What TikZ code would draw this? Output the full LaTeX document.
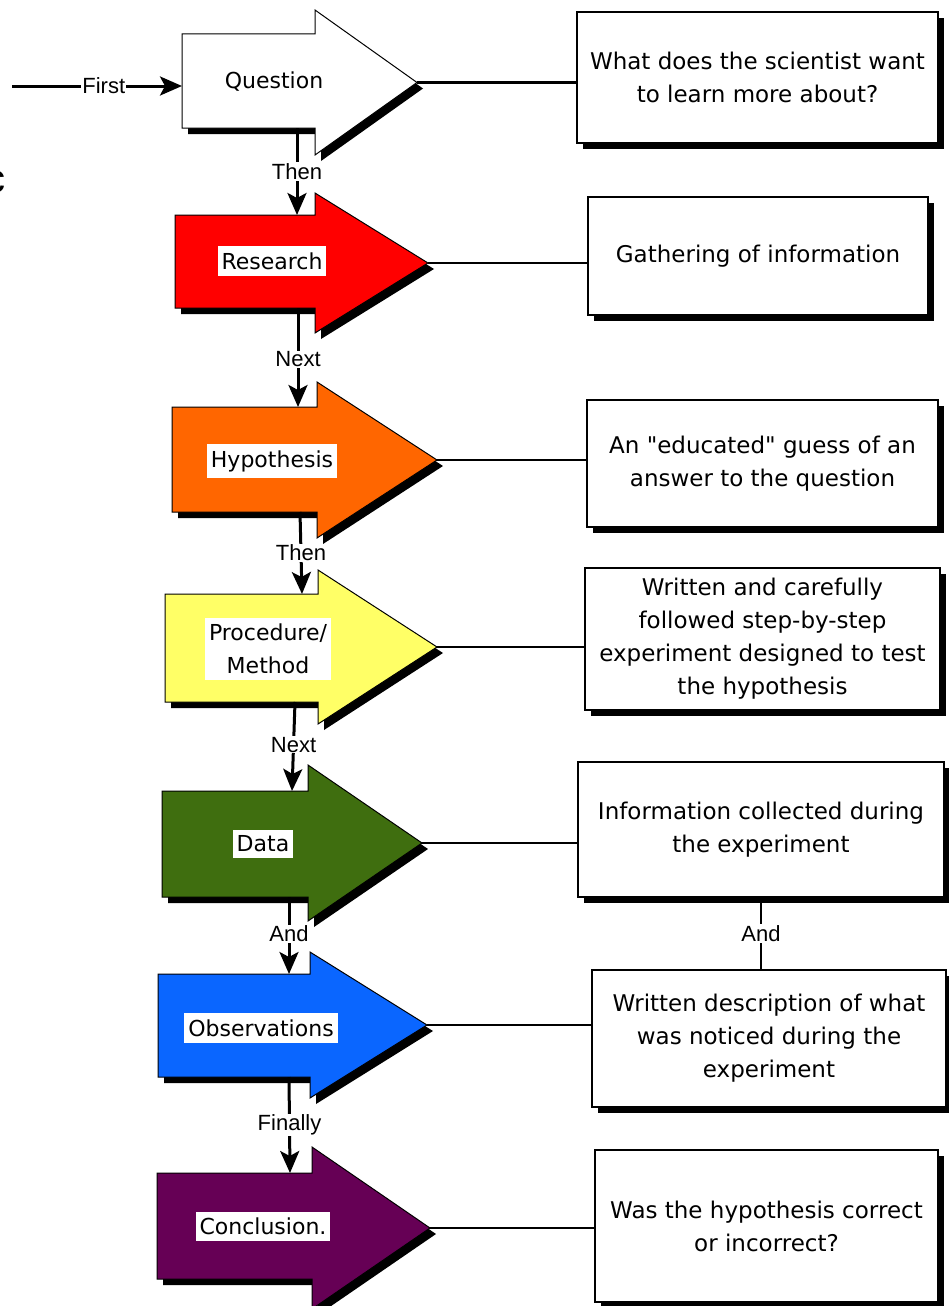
\documentclass[tikz,border=0pt]{standalone}
\usepackage{fontspec}
\setmainfont{DejaVu Sans}[Ligatures=TeXOff]
\newfontfamily\wordfont{Liberation Sans}
\usetikzlibrary{arrows.meta,shadows}

\definecolor{stepred}{HTML}{FF0000}
\definecolor{steporange}{HTML}{FF6600}
\definecolor{stepyellow}{HTML}{FFFF66}
\definecolor{stepgreen}{HTML}{3F6E0F}
\definecolor{stepblue}{HTML}{0A66FF}
\definecolor{steppurple}{HTML}{660055}

\tikzset{
  hard shadow/.style={general shadow={shadow xshift=6pt,shadow yshift=-6pt,fill=black}},
  stepshape/.style={draw=black,line width=1pt,hard shadow},
  steplabel/.style={fill=white,inner xsep=4pt,inner ysep=6pt,align=center,font=\fontsize{22}{33}\selectfont},
  infobox/.style={draw=black,line width=1.5pt,fill=white,hard shadow,align=center,inner sep=0pt,font=\fontsize{23}{33}\selectfont},
  joinword/.style={fill=white,inner sep=1pt,font=\wordfont\fontsize{22}{24}\selectfont},
  flow/.style={line width=3pt,-{Stealth[length=22pt,width=19pt,inset=5pt]}},
  link/.style={line width=2.8pt},
}

% #1 name, #2 fill, #3 left, #4 body top, #5 body bottom,
% #6 head base, #7 head top, #8 head bottom, #9 tip
\newcommand{\steparrow}[9]{%
  \filldraw[stepshape,fill=#2] (#3,#4) -- (#6,#4) -- (#6,#7) -- (#9,{(#7+#8)/2})
    -- (#6,#8) -- (#6,#5) -- (#3,#5) -- cycle;
  \coordinate (#1-tip) at (#9,{(#7+#8)/2});
}

\begin{document}
\begin{tikzpicture}[x=1pt,y=-1pt]
  \useasboundingbox (0,0) rectangle (949,1306);

  % the steps
  \steparrow{question}{white}{182}{34}{128}{315}{10}{155}{417}
  \steparrow{research}{stepred}{175}{215}{308}{315}{193}{333}{428}
  \steparrow{hypothesis}{steporange}{172}{407}{512}{317}{382}{538}{437}
  \steparrow{procedure}{stepyellow}{165}{594}{702}{318}{570}{724}{437}
  \steparrow{data}{stepgreen}{162}{791}{897}{308}{765}{921}{422}
  \steparrow{observations}{stepblue}{158}{974}{1077}{310}{952}{1098}{427}
  \steparrow{conclusion}{steppurple}{157}{1173}{1279}{312}{1147}{1309}{430}

  \node[steplabel] (question) at (274,82) {Question};
  \node[steplabel] (research) at (272,261) {Research};
  \node[steplabel] (hypothesis) at (272,461) {Hypothesis};
  \node[steplabel] (procedure) at (268,649) {Procedure/\\Method};
  \node[steplabel] (data) at (263,844) {Data};
  \node[steplabel] (observations) at (261,1028) {Observations};
  \node[steplabel] (conclusion) at (263,1226) {Conclusion.};

  % where the flow enters and leaves
  \coordinate (start) at (12,86);
  \coordinate (question-in) at (182,86);
  \coordinate (question-out) at (297,128);
  \coordinate (research-in) at (297,215);
  \coordinate (research-out) at (298,308);
  \coordinate (hypothesis-in) at (298,407);
  \coordinate (hypothesis-out) at (300,512);
  \coordinate (procedure-in) at (302,594);
  \coordinate (procedure-out) at (295,702);
  \coordinate (data-in) at (292,791);
  \coordinate (data-out) at (289,897);
  \coordinate (observations-in) at (289,974);
  \coordinate (observations-out) at (289,1077);
  \coordinate (conclusion-in) at (290,1173);

  \draw[flow] (start) -- node[joinword,pos=.54] {First} (question-in);
  \draw[flow] (question-out) -- node[joinword,pos=.5] {Then} (research-in);
  \draw[flow] (research-out) -- node[joinword,pos=.52] {Next} (hypothesis-in);
  \draw[flow] (hypothesis-out) -- node[joinword,pos=.5] {Then} (procedure-in);
  \draw[flow] (procedure-out) -- node[joinword,pos=.48] {Next} (data-in);
  \draw[flow] (data-out) -- node[joinword,pos=.48] {And} (observations-in);
  \draw[flow] (observations-out) -- node[joinword,pos=.5] {Finally} (conclusion-in);

  % what each step means
  \node[infobox,minimum width=361pt,minimum height=131pt] (b1) at (757.5,77.5)
    {What does the scientist want\\to learn more about?};
  \node[infobox,minimum width=340pt,minimum height=118pt] (b2) at (758,256)
    {Gathering of information};
  \node[infobox,minimum width=351pt,minimum height=127pt] (b3) at (762.5,463.5)
    {An "educated" guess of an\\answer to the question};
  \node[infobox,minimum width=355pt,minimum height=142pt] (b4) at (762.5,639)
    {Written and carefully\\followed step-by-step\\experiment designed to test\\the hypothesis};
  \node[infobox,minimum width=366pt,minimum height=135pt] (b5) at (761,829.5)
    {Information collected during\\the experiment};
  \node[infobox,minimum width=354pt,minimum height=137pt] (b6) at (769,1038.5)
    {Written description of what\\was noticed during the\\experiment};
  \node[infobox,minimum width=343pt,minimum height=152pt] (b7) at (766.5,1226)
    {Was the hypothesis correct\\or incorrect?};

  \draw[link] (question-tip) -- (question-tip -| b1.west);
  \draw[link] (research-tip) -- (research-tip -| b2.west);
  \draw[link] (hypothesis-tip) -- (hypothesis-tip -| b3.west);
  \draw[link] (procedure-tip) -- (procedure-tip -| b4.west);
  \draw[link] (data-tip) -- (data-tip -| b5.west);
  \draw[link] (observations-tip) -- (observations-tip -| b6.west);
  \draw[link] (conclusion-tip) -- (conclusion-tip -| b7.west);

  \draw[line width=1.5pt] (b5.south) -- node[joinword] {And} (b5.south |- b6.north);

  % cut-off letter at the left edge
  \node[font=\wordfont\fontsize{40}{40}\selectfont,inner sep=0pt] (cut) at (-4,182) {c};
\end{tikzpicture}
\end{document}
